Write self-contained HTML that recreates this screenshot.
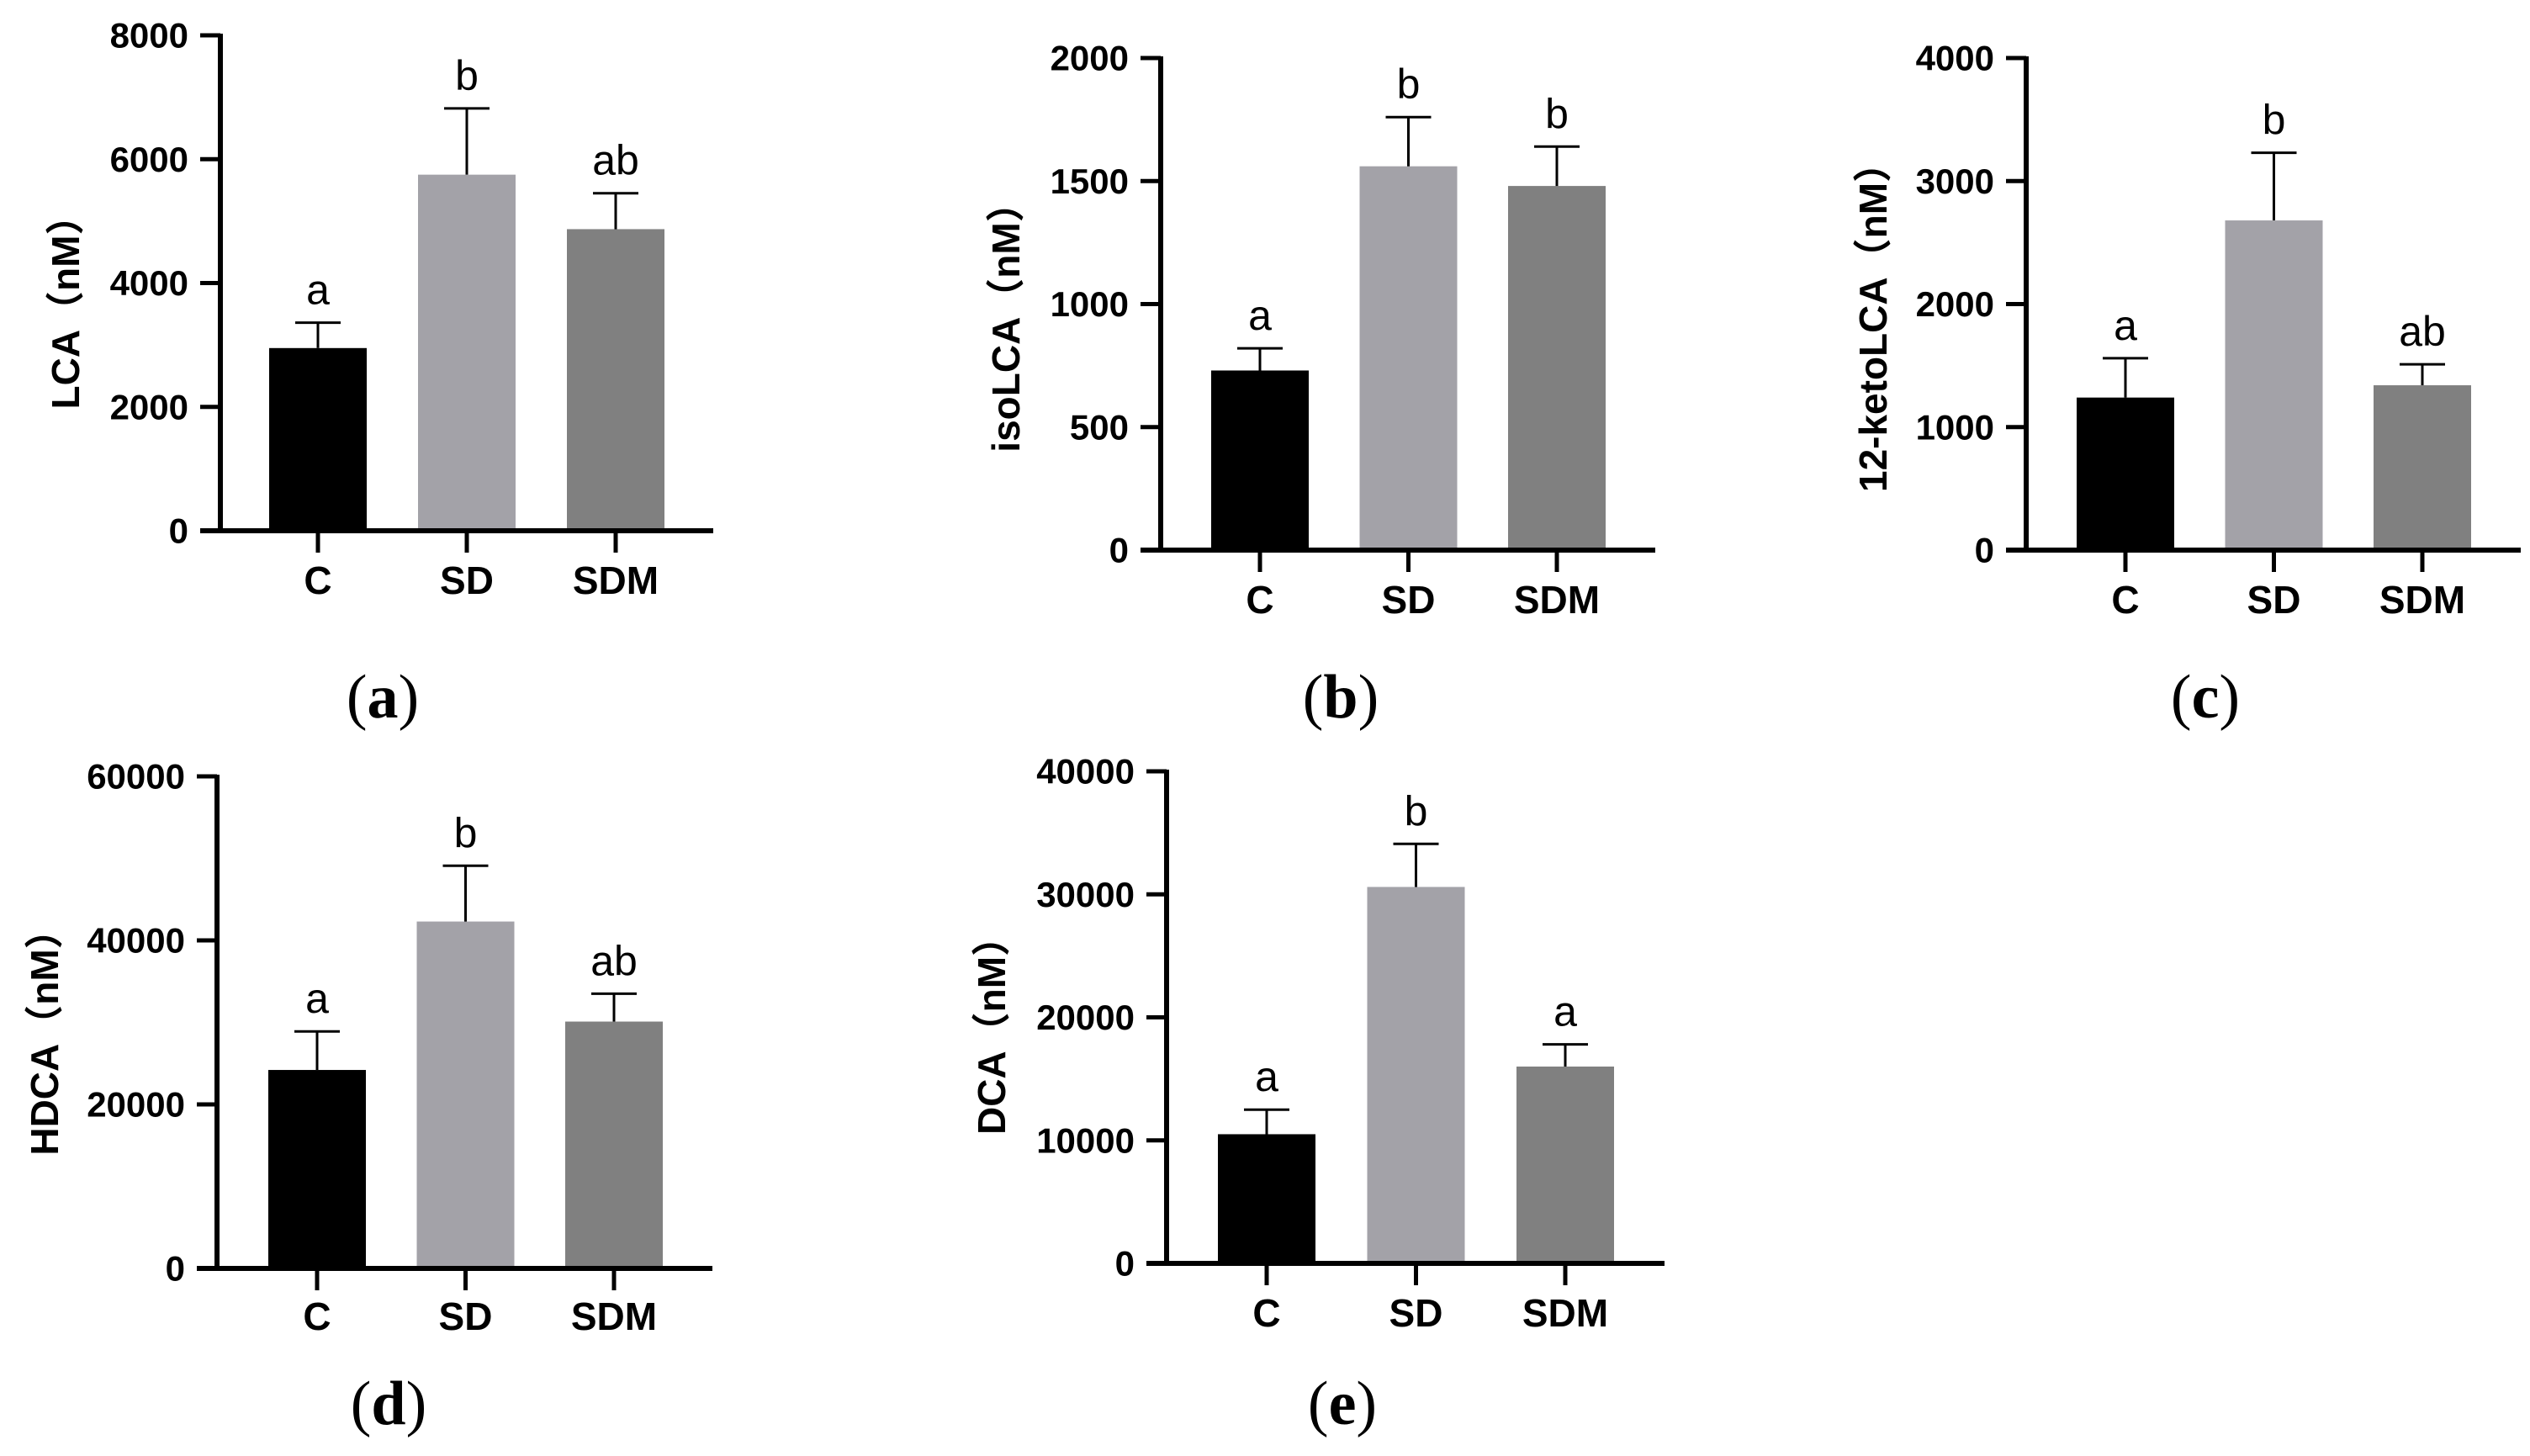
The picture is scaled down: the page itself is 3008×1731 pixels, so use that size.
<!DOCTYPE html>
<html><head><meta charset="utf-8">
<style>
html,body{margin:0;padding:0;background:#fff;}
svg{display:block;}
.tick{font-family:"Liberation Sans",Arial,sans-serif;font-weight:bold;font-size:42px;fill:#000;}
.cat{font-family:"Liberation Sans",Arial,sans-serif;font-weight:bold;font-size:46px;fill:#000;}
.ytitle{font-family:"Liberation Sans","Noto Sans CJK SC",sans-serif;font-weight:bold;font-size:46px;fill:#000;}
.sig{font-family:"Liberation Sans",Arial,sans-serif;font-size:50px;fill:#000;}
.cap{font-family:"Liberation Serif",serif;font-size:74px;fill:#000;}
</style></head>
<body>
<svg id="fig" width="3008" height="1731" viewBox="0 0 3008 1731" xmlns="http://www.w3.org/2000/svg"></svg>
<script>
const categories = ["C","SD","SDM"];
const barColors = ["#000000","#a3a2a8","#808080"];

const lcaMeans = [2950, 5750, 4870];
const lcaErrTop = [3360, 6820, 5450];
const lcaLetters = ["a","b","ab"];
const lcaTicks = [0,2000,4000,6000,8000];

const isoMeans = [730, 1560, 1480];
const isoErrTop = [820, 1760, 1640];
const isoLetters = ["a","b","b"];
const isoTicks = [0,500,1000,1500,2000];

const ketoMeans = [1240, 2680, 1340];
const ketoErrTop = [1560, 3230, 1510];
const ketoLetters = ["a","b","ab"];
const ketoTicks = [0,1000,2000,3000,4000];

const hdcaMeans = [24200, 42300, 30100];
const hdcaErrTop = [28900, 49100, 33500];
const hdcaLetters = ["a","b","ab"];
const hdcaTicks = [0,20000,40000,60000];

const dcaMeans = [10500, 30600, 16000];
const dcaErrTop = [12500, 34100, 17800];
const dcaLetters = ["a","b","a"];
const dcaTicks = [0,10000,20000,30000,40000];

const svg = document.getElementById('fig');
const NS = "http://www.w3.org/2000/svg";
function mk(tag, attrs, parent){
  const e = document.createElementNS(NS, tag);
  for (const k in attrs) e.setAttribute(k, attrs[k]);
  parent.appendChild(e);
  return e;
}

function panel(key, L, means, errTop, letters, ticks, title, caption){
  const g = mk('g', {}, svg);
  
  
  const max = ticks[ticks.length-1];
  const y = v => L.y0 - (v / max) * (L.y0 - L.yTop);
  const x = i => L.bar0 + i * L.step;
  const bw = 116;
  for (let i = 0; i < means.length; i++) {
    const r = mk('rect', {x: x(i), y: y(means[i]), width: bw, height: L.y0 - y(means[i]), fill: barColors[i]}, g);
    
    
    const cx = x(i) + bw/2;
    const eb = mk('path', {d: `M${cx},${y(means[i])} V${y(errTop[i])} M${cx-27},${y(errTop[i])} H${cx+27}`, stroke: '#000', 'stroke-width': 3, fill: 'none'}, g);
    
    
    const s = mk('text', {x: cx, y: y(errTop[i]) - 22, 'text-anchor': 'middle', class: 'sig'}, g);
    s.textContent = letters[i];
    
    
    const tk = mk('line', {x1: cx, x2: cx, y1: L.y0, y2: L.y0 + 26, stroke: '#000', 'stroke-width': 5}, g);
    
    
    const c = mk('text', {x: cx, y: L.catY, 'text-anchor': 'middle', 'dominant-baseline': 'central', class: 'cat'}, g);
    c.textContent = categories[i];
    
    
  }
  const ya = mk('line', {x1: L.ax, x2: L.ax, y1: y(max) - 2, y2: L.y0 + 2, stroke: '#000', 'stroke-width': 6}, g);
  
  
  const xa = mk('line', {x1: L.ax - 24, x2: L.xEnd, y1: L.y0, y2: L.y0, stroke: '#000', 'stroke-width': 6}, g);
  
  
  for (const t of ticks) {
    const tl = mk('line', {x1: L.ax - 24, x2: L.ax, y1: y(t), y2: y(t), stroke: '#000', 'stroke-width': 5}, g);
    
    
    const tt = mk('text', {x: L.ax - 38, y: y(t), 'text-anchor': 'end', 'dominant-baseline': 'central', class: 'tick'}, g);
    tt.textContent = t;
    
    
  }
  const ttl = mk('text', {x: 0, y: 0, 'text-anchor': 'middle', 'dominant-baseline': 'central', class: 'ytitle', transform: `translate(${L.tx},${L.ty}) rotate(-90)`}, g);
  ttl.textContent = title + '（nM）';
  
  
  const cp = mk('text', {x: L.capX, y: L.capY, 'text-anchor': 'middle', 'dominant-baseline': 'central', class: 'cap'}, g);
  cp.innerHTML = '(<tspan font-weight="bold">' + caption + '</tspan>)';
  
  
}

panel('a', {ax:262, yTop:42, y0:631, xEnd:848, bar0:320, step:177, catY:690, tx:78, ty:360, capX:455, capY:829}, lcaMeans, lcaErrTop, lcaLetters, lcaTicks, 'LCA', 'a');
panel('b', {ax:1380, yTop:69, y0:654, xEnd:1968, bar0:1440, step:176.5, catY:713, tx:1196, ty:378, capX:1594, capY:829}, isoMeans, isoErrTop, isoLetters, isoTicks, 'isoLCA', 'b');
panel('c', {ax:2409, yTop:69, y0:654, xEnd:2997, bar0:2469, step:176.5, catY:713, tx:2227, ty:378, capX:2622, capY:829}, ketoMeans, ketoErrTop, ketoLetters, ketoTicks, '12-ketoLCA', 'c');
panel('d', {ax:258, yTop:923, y0:1508, xEnd:847, bar0:319, step:176.5, catY:1565, tx:53, ty:1228, capX:462, capY:1669}, hdcaMeans, hdcaErrTop, hdcaLetters, hdcaTicks, 'HDCA', 'd');
panel('e', {ax:1387, yTop:917, y0:1502, xEnd:1979, bar0:1448, step:177.5, catY:1561, tx:1179, ty:1220, capX:1596, capY:1669}, dcaMeans, dcaErrTop, dcaLetters, dcaTicks, 'DCA', 'e');
</script>
</body></html>
